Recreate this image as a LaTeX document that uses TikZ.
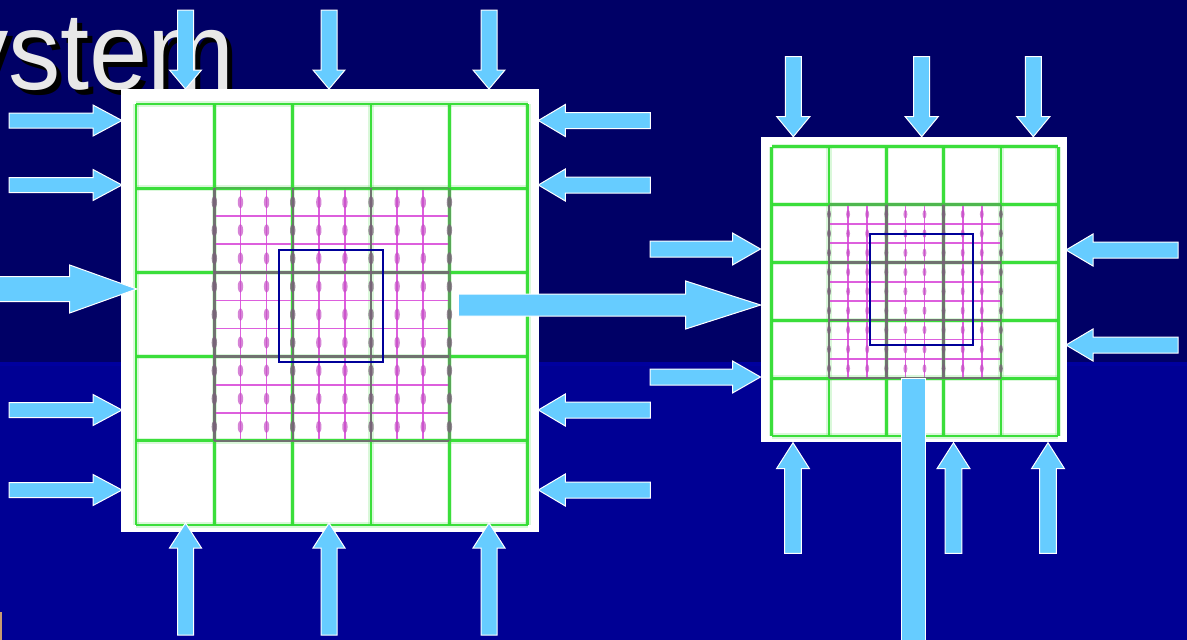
\documentclass[tikz,border=0pt]{standalone}
\usepackage{fontspec}
\setmainfont{Liberation Sans}

\definecolor{bgtop}{HTML}{000066}
\definecolor{bgbot}{HTML}{000094}
\definecolor{bgseam}{HTML}{00009E}
\definecolor{arrowblue}{HTML}{66CCFF}
\definecolor{gridgreen}{HTML}{33DD33}
\definecolor{finemag}{HTML}{D844D8}
\definecolor{finegray}{HTML}{7A607A}
\definecolor{framenavy}{HTML}{000099}
\definecolor{titlegray}{HTML}{E8E8E8}
\definecolor{fragtan}{HTML}{C89A70}

\tikzset{
  arrowstyle/.style={fill=arrowblue, draw=white, line width=1pt, line join=miter},
  coarseglow/.style={draw=gridgreen, line width=5.5pt, opacity=0.18},
  coarseline/.style={draw=gridgreen, line width=2.8pt, opacity=0.95},
  fineline/.style={draw=finemag, line width=1.8pt, opacity=0.85},
  finecoarse/.style={draw=finegray, line width=2.4pt, opacity=0.85},
  zoomframe/.style={draw=framenavy, line width=2.4pt},
  whitepad/.style={fill=white, draw=none},
  heading/.style={anchor=base east, inner sep=0pt, xscale=0.95,
                  font=\fontsize{110}{110}\selectfont},
}

% block arrow: tip x, tip y (y measured downwards), direction angle,
% total length, shaft half width, head half width, head length
\newcommand\blockarrow[7]{%
  \begin{scope}[shift={(#1,-#2)}, rotate=#3]
    \filldraw[arrowstyle] (0,0) -- (-#7,#6) -- (-#7,#5) -- (-#4,#5)
      -- (-#4,-#5) -- (-#7,-#5) -- (-#7,-#6) -- cycle;
  \end{scope}}

% 5x5 coarse mesh with a 9x9 refined patch over the middle 3x3 cells:
% origin x, origin y (downwards), cell width, cell height
\newcommand\meshblock[4]{%
  \pgfmathsetmacro\blobrx{#3*0.034}%
  \pgfmathsetmacro\blobry{#4*0.075}%
  \begin{scope}[shift={(#1,-#2)}, x=#3pt, y=-#4pt]
    % soft halo of the coarse mesh
    \foreach \k in {0,...,5} {
      \draw[coarseglow] (\k,0) -- (\k,5);
      \draw[coarseglow] (0,\k) -- (5,\k);
    }
    % refined patch
    \foreach \k in {1,2,4,5,7,8} {
      \draw[fineline] (1,1+\k/3) -- (4,1+\k/3);
      \draw[fineline] (1+\k/3,1) -- (1+\k/3,4);
    }
    % coarse mesh
    \foreach \k in {0,...,5} {
      \draw[coarseline] (\k,0) -- (\k,5);
      \draw[coarseline] (0,\k) -- (5,\k);
    }
    % coarse lines crossing the refined patch
    \foreach \k in {1,2,3} {\draw[finecoarse] (\k,1) -- (\k,4);}
    \foreach \k in {2,3,4} {\draw[finecoarse] (1,\k) -- (4,\k);}
    \draw[finecoarse, opacity=0.45] (4,1) -- (4,4);
    \draw[finecoarse, opacity=0.3] (1,1) -- (4,1);
    % face-centred points on the vertical faces
    \foreach \k in {0,...,9} {
      \pgfmathtruncatemacro\onCoarse{mod(\k,3)==0 ? 1 : 0}
      \foreach \r in {0,...,8} {
        \ifnum\onCoarse=1
          \fill[finegray, opacity=0.75] (1+\k/3,1+\r/3+1/6) ellipse [x radius=\blobrx pt, y radius=\blobry pt];
        \else
          \fill[finemag!80!gray, opacity=0.7] (1+\k/3,1+\r/3+1/6) ellipse [x radius=\blobrx pt, y radius=\blobry pt];
        \fi
      }
    }
  \end{scope}}

\begin{document}
\begin{tikzpicture}[x=1pt, y=1pt]
  \useasboundingbox (0,0) rectangle (1187,-640);
  \begin{scope}
    \clip (0,0) rectangle (1187,-640);

    % background bands
    \fill[bgtop] (0,0) rectangle (1187,-364);
    \fill[bgbot] (0,-364) rectangle (1187,-640);
    \fill[bgseam] (0,-362) rectangle (1187,-366);
    \fill[fragtan] (0,-612) rectangle (1.6,-640);

    % heading with drop shadow
    \node[heading, text=black] (titleshadow) at (240,-94) {System};
    \node[heading, text=titlegray] (title) at (235,-89) {System};

    % coarse domain with refined patch
    \fill[whitepad] (121,-89) rectangle (539,-532);
    \meshblock{136}{104}{78.35}{84.2}
    \draw[zoomframe] (279,-250) rectangle (383,-362);

    % refined domain
    \fill[whitepad] (761,-137) rectangle (1067,-442);
    \meshblock{771.7}{146.7}{57.3}{57.86}
    \draw[zoomframe] (870,-234) rectangle (973,-345);

    % boundary inflow on the coarse domain
    \foreach \xx in {185.5,329,489} {
      \blockarrow{\xx}{89}{-90}{79}{8}{16}{19}
      \blockarrow{\xx}{523}{90}{112}{8}{16}{25}
    }
    \foreach \yy in {120.5,185,410,490} {
      \blockarrow{122}{\yy}{0}{113}{7.5}{15.5}{29}
      \blockarrow{538.3}{\yy}{180}{112}{8}{16}{27}
    }
    \blockarrow{136.7}{289}{0}{140}{12.5}{24}{67}

    % coarse solution handed to the refined domain
    \blockarrow{760.7}{305}{0}{302.4}{11}{24}{75}

    % boundary inflow on the refined domain
    \foreach \xx in {793.3,921.7,1033.3} {
      \blockarrow{\xx}{136.7}{-90}{80}{8}{16.5}{20}
    }
    \foreach \xx in {793,953.5,1048} {
      \blockarrow{\xx}{442.7}{90}{110.6}{8.3}{16.5}{26}
    }
    \foreach \yy in {249,377} {
      \blockarrow{760.5}{\yy}{0}{110.5}{8}{16}{28}
    }
    \foreach \yy in {250,345} {
      \blockarrow{1066}{\yy}{180}{112}{8}{16}{27}
    }

    % output channel of the refined domain
    \filldraw[arrowstyle] (901.7,-378) rectangle (925,-645);
  \end{scope}
\end{tikzpicture}
\end{document}
